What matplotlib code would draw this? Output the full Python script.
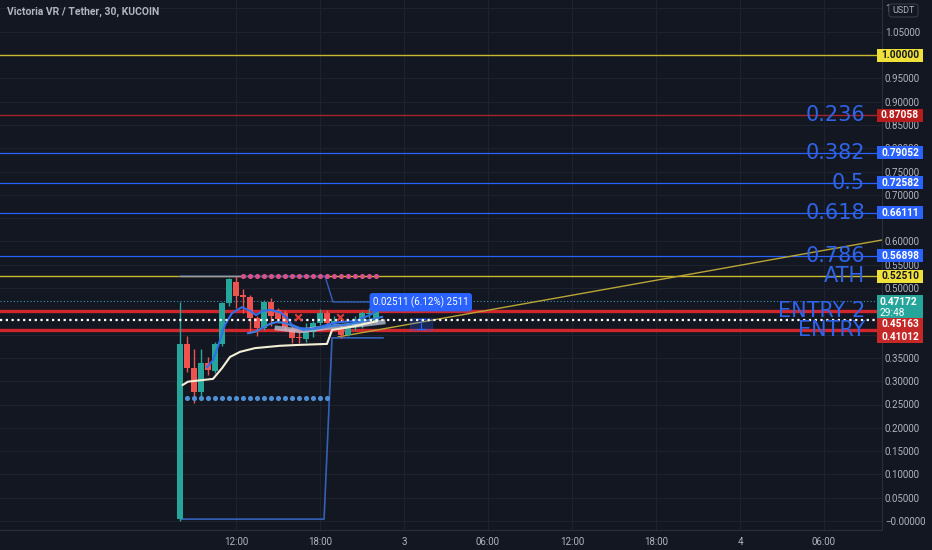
import numpy as np
import matplotlib
matplotlib.use("Agg")
import matplotlib.pyplot as plt
from matplotlib.patches import Rectangle, FancyBboxPatch

plt.rcParams["font.family"] = ["Roboto", "DejaVu Sans"]

# ---- data (hours since day 2 00:00, prices in USDT) ----
bar_hours = np.arange(8.0, 22.5, 0.5)
opens = [0.004, 0.380, 0.328, 0.277, 0.339, 0.322, 0.380, 0.468, 0.513, 0.485,
         0.481, 0.436, 0.414, 0.470, 0.452, 0.446, 0.410, 0.393, 0.390, 0.405,
         0.425, 0.446, 0.424, 0.414, 0.399, 0.418, 0.425, 0.444, 0.430]
closes = [0.380, 0.328, 0.277, 0.339, 0.324, 0.380, 0.468, 0.519, 0.483, 0.480,
          0.436, 0.414, 0.470, 0.440, 0.433, 0.416, 0.393, 0.392, 0.405, 0.425,
          0.446, 0.425, 0.430, 0.399, 0.414, 0.422, 0.446, 0.446, 0.4717]
highs = [0.470, 0.397, 0.369, 0.369, 0.352, 0.384, 0.470, 0.521, 0.5251, 0.498,
         0.484, 0.440, 0.474, 0.478, 0.458, 0.452, 0.418, 0.405, 0.425, 0.430,
         0.455, 0.452, 0.440, 0.420, 0.425, 0.440, 0.450, 0.458, 0.480]
lows = [0.000, 0.320, 0.253, 0.266, 0.313, 0.318, 0.375, 0.462, 0.457, 0.446,
        0.403, 0.398, 0.410, 0.418, 0.425, 0.410, 0.382, 0.382, 0.385, 0.395,
        0.420, 0.418, 0.420, 0.393, 0.398, 0.410, 0.415, 0.435, 0.425]

# fib / level lines
fib_levels = [0.87058, 0.79052, 0.72582, 0.66111, 0.56898]
fib_names = ["0.236", "0.382", "0.5", "0.618", "0.786"]
ath = 0.52510
top_level = 1.00000
entry2 = 0.45163
entry1 = 0.41012
last_price = 0.47172
white_dotted = 0.4303

# moving averages
vwap_h = [8.2, 8.57, 10.36, 11.0, 11.57, 12.29, 13.36, 15.14, 16.57, 18.5, 18.86, 20.5, 22.07]
vwap_p = [0.292, 0.299, 0.305, 0.328, 0.352, 0.363, 0.371, 0.376, 0.378, 0.380, 0.410, 0.418, 0.429]
ema_fast_h = [9.93, 10.36, 10.86, 11.21, 11.71, 12.43, 13.0, 13.43, 13.93, 14.43, 15.14,
              15.64, 16.0, 16.57, 17.29, 18.0, 18.71, 19.43, 20.5, 21.57, 22.29]
ema_fast_p = [0.330, 0.345, 0.388, 0.421, 0.446, 0.459, 0.451, 0.442, 0.451, 0.453, 0.448,
              0.436, 0.421, 0.414, 0.412, 0.416, 0.423, 0.427, 0.429, 0.442, 0.455]
ema_slow_h = [12.86, 13.36, 13.86, 14.43, 14.93, 15.5, 16.07, 16.79, 17.64, 18.71, 19.79, 21.21, 22.43]
ema_slow_p = [0.403, 0.406, 0.414, 0.423, 0.427, 0.425, 0.418, 0.410, 0.412, 0.418, 0.421, 0.429, 0.438]
band_h = [14.93, 16.57, 18.71, 20.86, 22.5]
band_p = [0.414, 0.408, 0.416, 0.421, 0.427]

# channel (highest high / lowest low)
upper_h = [8.0, 18.36, 18.93, 21.6]
upper_p = [0.5251, 0.5251, 0.470, 0.470]
lower_h = [8.07, 18.29, 18.86, 22.5]
lower_p = [0.004, 0.004, 0.393, 0.393]

# dotted stop levels
blue_dots_h = np.arange(8.5, 19.0, 0.5)
blue_dots_p = 0.264
pink_dots_h = np.arange(12.5, 22.5, 0.5)
pink_dots_p = 0.5251
cross_h = [16.43, 19.43]
cross_p = [0.438, 0.438]

# trend line
trend_h = [19.29, 58.14]
trend_p = [0.395, 0.603]

price_ticks = np.arange(0.0, 1.1001, 0.05)
time_ticks = [12, 18, 24, 30, 36, 42, 48, 54]
time_labels = ["12:00", "18:00", "3", "06:00", "12:00", "18:00", "4", "06:00"]

BG = "#131722"
GRID = "#1e222d"
TXT = "#b2b5be"
GREEN = "#26a69a"
RED = "#ef5350"
BLUE = "#2962ff"
FIBTXT = "#2f63e8"
YEL = "#c9b92c"

fig = plt.figure(figsize=(9.32, 5.5), dpi=100, facecolor=BG)
ax = fig.add_axes([0, 20 / 550, 882 / 932, 530 / 550], facecolor=BG)
ax.set_xlim(-68 / 14, 814 / 14)
ax.set_ylim(-9 / 466, 521 / 466)
px = 1 / 466  # one pixel in price units

# grid
for h in time_ticks:
    ax.axvline(h, color=GRID, lw=0.8, zorder=0)
for p in price_ticks:
    ax.axhline(p, color=GRID, lw=0.8, zorder=0)

# axes styling
for s in ["left", "top"]:
    ax.spines[s].set_visible(False)
ax.spines["right"].set_color("#2a2e39")
ax.spines["bottom"].set_color("#2a2e39")
ax.yaxis.tick_right()
ax.set_yticks(price_ticks)
ylabels = ["%.5f" % p for p in price_ticks]
ylabels[0] = "\u22120.00000"
ylabels[-1] = "1"  # rest hidden behind the USDT badge
for i in (8, 9, 13, 20):  # 0.40, 0.45, 0.65, 1.00 sit under the scale boxes
    ylabels[i] = ""
ax.set_yticklabels(ylabels)
ax.set_xticks(time_ticks)
ax.set_xticklabels(time_labels)
ax.tick_params(axis="y", length=0, pad=2, labelsize=7, labelcolor=TXT)
ax.tick_params(axis="x", length=0, pad=5, labelsize=7, labelcolor=TXT)

# horizontal levels
ax.axhline(top_level, color=YEL, lw=1, zorder=2)
ax.axhline(ath, color=YEL, lw=1, zorder=2)
ax.axhline(fib_levels[0], color="#a3242c", lw=1, zorder=2)
for lv in fib_levels[1:]:
    ax.axhline(lv, color=BLUE, lw=0.9, zorder=2)
ax.axhline(entry2, color="#d0272c", lw=2.4, zorder=2)
ax.axhline(entry1, color="#d0272c", lw=2.4, zorder=2)
ax.axhline(last_price, color="#3d8fb5", lw=0.8, ls=(0, (1, 2)), zorder=2)
ax.axhline(white_dotted, color="white", lw=1.6, ls=(0, (1, 1.6)), zorder=6)

# fib labels
ytr = ax.get_yaxis_transform()
for lv, name in zip(fib_levels, fib_names):
    ax.text(865 / 882, lv, name, transform=ytr, ha="right", va="center",
            fontsize=15, color=FIBTXT, family="DejaVu Sans", zorder=7)
for lv, name in [(ath, "ATH"), (entry2, "ENTRY 2"), (entry1, "ENTRY")]:
    ax.text(865 / 882, lv, name, transform=ytr, ha="right", va="center",
            fontsize=15, color=FIBTXT, family="DejaVu Sans", zorder=7)

# trend line
ax.plot(trend_h, trend_p, color="#b8a536", lw=1, zorder=3)

# channel
ax.plot(upper_h, upper_p, color="#3560b8", lw=1, zorder=3)
ax.plot([8.0, 12.3], [ath, ath], color="#9a9ca3", lw=1, zorder=3)
ax.plot(lower_h, lower_p, color="#3560b8", lw=1.2, zorder=3)

# candles
colors = [GREEN if c >= o else RED for o, c in zip(opens, closes)]
ax.vlines(bar_hours, lows, highs, colors=colors, lw=1, zorder=4)
bottoms = [min(o, c) for o, c in zip(opens, closes)]
heights = [max(abs(c - o), 0.003) for o, c in zip(opens, closes)]
ax.bar(bar_hours, heights, bottom=bottoms, width=0.38, color=colors, zorder=4)

# moving averages
ax.plot(band_h, band_p, color="#c9d3e6", lw=3.5, alpha=0.7, zorder=5)
ax.plot(vwap_h, vwap_p, color="#f3efd6", lw=1.5, zorder=5)
ax.plot(ema_fast_h, ema_fast_p, color="#2f6ee8", lw=1.5, zorder=5)
ax.plot(ema_slow_h, ema_slow_p, color="#3a7be0", lw=1.5, zorder=5)

# dots and crosses
ax.scatter(blue_dots_h, [blue_dots_p] * len(blue_dots_h), s=7, color="#4f8fd6", zorder=5)
ax.scatter(pink_dots_h, [pink_dots_p] * len(pink_dots_h), s=7, color="#d9508a", zorder=5)
ax.scatter(cross_h, cross_p, marker="x", s=22, color="#e53935", lw=1.5, zorder=6)

# measurement box
ax.add_patch(Rectangle((24.43, 0.410), 1.57, 0.026, facecolor=BLUE, alpha=0.25,
                       edgecolor=BLUE, lw=0.8, zorder=3))
ax.plot([25.2, 25.2], [0.412, 0.434], color=BLUE, lw=0.8, zorder=3)
ax.plot([24.9, 25.5], [0.434, 0.434], color=BLUE, lw=0.8, zorder=3)
ax.plot([24.9, 25.5], [0.412, 0.412], color=BLUE, lw=0.8, zorder=3)
ax.text(25.2, 0.4695, "0.02511 (6.12%) 2511", ha="center", va="center", fontsize=7,
        color="white", zorder=8,
        bbox=dict(boxstyle="round,pad=0.35,rounding_size=0.3", fc=BLUE, ec="none"))

# price scale labels (fixed-size boxes on the scale)
scale_labels = [
    (top_level, "1.00000", "#f0e13a", "#131722"),
    (fib_levels[0], "0.87058", "#b71c1c", "white"),
    (fib_levels[1], "0.79052", BLUE, "white"),
    (fib_levels[2], "0.72582", BLUE, "white"),
    (fib_levels[3], "0.66111", BLUE, "white"),
    (fib_levels[4], "0.56898", BLUE, "white"),
    (ath, "0.52510", "#f0e13a", "#131722"),
    (0.4238, "0.45163", "#c62828", "white"),
    (0.3959, "0.41012", "#c62828", "white"),
]
bx0, bw = 877 / 882, 46 / 882
for y, s, fc, tc in scale_labels:
    ax.add_patch(Rectangle((bx0, y - 6.5 * px), bw, 13 * px, transform=ytr, fc=fc,
                           ec="none", zorder=9, clip_on=False))
    ax.text(900 / 882, y, s, transform=ytr, ha="center", va="center", fontsize=7.3,
            color=tc, zorder=10, clip_on=False, fontweight="bold")
ax.add_patch(Rectangle((bx0, 0.4603 - 11.5 * px), bw, 23 * px, transform=ytr, fc=GREEN,
                       ec="none", zorder=9, clip_on=False))
ax.text(880 / 882, 0.4603 + 5 * px, "0.47172", transform=ytr, ha="left", va="center",
        fontsize=7.3, color="white", zorder=10, clip_on=False, fontweight="bold")
ax.text(880 / 882, 0.4603 - 6 * px, "29:48", transform=ytr, ha="left", va="center",
        fontsize=7.3, color="white", zorder=10, clip_on=False)

# USDT badge
fig.patches.append(FancyBboxPatch((889 / 932, 533 / 550), 29 / 932, 13 / 550,
                                  boxstyle="round,pad=0,rounding_size=0.004",
                                  transform=fig.transFigure, fc=BG, ec="#363a45", lw=0.8,
                                  zorder=20))
fig.text(903.5 / 932, 539.5 / 550, "USDT", ha="center", va="center", fontsize=6.5,
         color=TXT, zorder=21)

# title
fig.text(7 / 932, 538 / 550, "Victoria VR / Tether, 30, KUCOIN", ha="left", va="center",
         fontsize=7.5, color=TXT, fontweight="bold")

fig.savefig("out.png", dpi=100, facecolor=BG)
